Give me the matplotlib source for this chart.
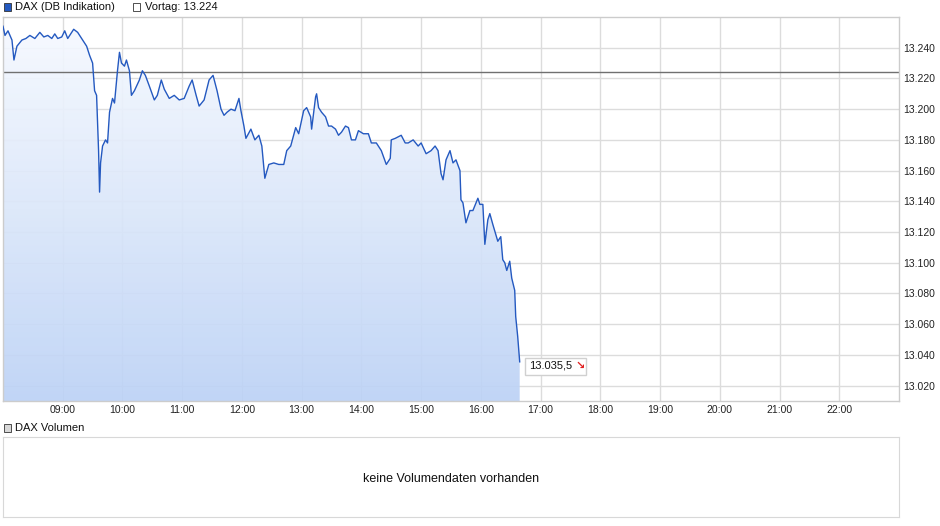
import matplotlib.pyplot as plt
import matplotlib.transforms as mtransforms
import numpy as np
from matplotlib.colors import LinearSegmentedColormap
from matplotlib.ticker import FixedLocator, FuncFormatter

# DAX intraday: Minuten nach 08:00 und Kurs
minuten = [0, 2, 5, 9, 11, 14, 19, 23, 27, 32, 37, 41, 45, 49, 52, 55, 59, 62, 65, 68,
           71, 75, 79, 84, 87, 90, 92, 94, 96, 97, 98, 100, 103, 105, 107, 110, 112, 115,
           117, 119, 122, 124, 127, 129, 132, 137, 140, 143, 147, 152, 155, 159, 162, 167,
           172, 177, 182, 187, 190, 194, 197, 202, 207, 211, 215, 219, 222, 225, 229, 233,
           237, 239, 242, 244, 249, 253, 257, 260, 263, 267, 272, 277, 282, 285, 289, 294,
           297, 302, 305, 309, 310, 314, 315, 317, 320, 324, 327, 330, 334, 337, 340, 344,
           347, 350, 354, 357, 362, 367, 370, 375, 380, 385, 389, 390, 394, 400, 404, 407,
           412, 417, 420, 425, 430, 434, 437, 440, 442, 445, 449, 452, 455, 459, 460, 462,
           465, 469, 472, 477, 479, 482, 484, 487, 489, 492, 497, 500, 502, 504, 506, 509,
           511, 514, 515, 517, 518, 519]
kurs = [13254, 13248, 13251, 13245, 13232, 13241, 13245, 13246, 13248, 13246, 13250,
        13247, 13248, 13246, 13249, 13246, 13247, 13251, 13246, 13249, 13252, 13250,
        13246, 13241, 13235, 13230, 13212, 13209, 13173, 13146, 13165, 13176, 13180,
        13178, 13198, 13207, 13204, 13225, 13237, 13230, 13228, 13232, 13225, 13209,
        13212, 13219, 13225, 13222, 13215, 13206, 13209, 13219, 13213, 13207, 13209,
        13206, 13207, 13215, 13219, 13209, 13202, 13206, 13219, 13222, 13212, 13200,
        13196, 13198, 13200, 13199, 13207, 13199, 13189, 13181, 13187, 13180, 13183,
        13176, 13155, 13164, 13165, 13164, 13164, 13173, 13176, 13188, 13184, 13199,
        13201, 13195, 13187, 13208, 13210, 13201, 13198, 13195, 13189, 13189, 13187,
        13183, 13185, 13189, 13188, 13180, 13180, 13186, 13184, 13184, 13178, 13178,
        13173, 13164, 13168, 13180, 13181, 13183, 13178, 13178, 13180, 13176, 13178,
        13171, 13173, 13176, 13173, 13158, 13154, 13167, 13173, 13165, 13167, 13160,
        13141, 13139, 13126, 13134, 13134, 13142, 13138, 13138, 13112, 13128, 13132,
        13125, 13114, 13117, 13102, 13100, 13095, 13101, 13090, 13082, 13065, 13052,
        13044, 13035.5]
vortag = 13224
letzter = 13035.5

stunden = list(range(9, 23))
stunden_labels = [f"{h:02d}:00" for h in stunden]
y_ticks = list(range(13020, 13241, 20))

plt.rcParams['font.family'] = ['Liberation Sans', 'DejaVu Sans']

t = 8 + np.array(minuten) / 60.0
k = np.array(kurs, dtype=float)

fig = plt.figure(figsize=(9.4, 5.26), dpi=100)
W, H = 940, 526
ax = fig.add_axes([3 / W, 1 - 401 / H, 896 / W, 384 / H])
ax.set_xlim(8, 23)
ax.set_ylim(13010, 13260)

# Gitter
grau = '#dcdcdc'
for h in stunden:
    ax.axvline(h, color=grau, lw=1, zorder=0)
for y in y_ticks:
    ax.axhline(y, color=grau, lw=1, zorder=0)

# Fläche mit Farbverlauf
cmap = LinearSegmentedColormap.from_list('blau', ['#bcd2f6', '#dbe7fa', '#f7faff'])
grad = np.linspace(0, 1, 256).reshape(-1, 1)
img = ax.imshow(grad, extent=[8, 23, 13010, 13260], origin='lower', aspect='auto',
                cmap=cmap, zorder=1, alpha=0.92)
poly = ax.fill_between(t, k, 13010, color='none', lw=0)
img.set_clip_path(poly.get_paths()[0], transform=ax.transData)

ax.plot(t, k, color='#2459c0', lw=1.0, zorder=3)
ax.axhline(vortag, color='#707070', lw=1, zorder=2)

ax.xaxis.set_major_locator(FixedLocator(stunden))
ax.set_xticklabels(stunden_labels)
ax.yaxis.tick_right()
ax.yaxis.set_major_locator(FixedLocator(y_ticks))
ax.yaxis.set_major_formatter(FuncFormatter(lambda v, p: f"{v / 1000:.3f}"))
ax.tick_params(axis='both', length=0, labelsize=7.5, colors='#222222')
ax.tick_params(axis='y', pad=3)
ax.tick_params(axis='x', pad=3)
for s in ax.spines.values():
    s.set_color('#cccccc')
    s.set_linewidth(1)

# Letzter Kurs: Kasten in Pixeln neben dem letzten Punkt
px, py = ax.transData.transform((t[-1], letzter))
ax.add_patch(plt.Rectangle((px + 5, py - 13), 61, 17, transform=mtransforms.IdentityTransform(),
                           fc='white', ec='#d0d0d0', lw=1, zorder=4, clip_on=False))
kurs_text = f"{letzter:,.1f}".replace(',', 'X').replace('.', ',').replace('X', '.')
ax.annotate(kurs_text, xy=(t[-1], letzter), xytext=(6.5, -3), textcoords='offset points',
            va='center', ha='left', fontsize=8, color='#111111', zorder=6)
ax.annotate("\u2198", xy=(t[-1], letzter), xytext=(40, -3), textcoords='offset points',
            va='center', ha='left', fontsize=8, color='#e02020', family='DejaVu Sans',
            fontweight='bold', zorder=6)

# Legende oben
fig.patches.append(plt.Rectangle((4 / W, 1 - 11 / H), 7 / W, 8 / H, transform=fig.transFigure,
                                 fc='#2459c0', ec='#333333', lw=0.6))
fig.text(15 / W, 1 - 7 / H, "DAX (DB Indikation)", fontsize=8, va='center', ha='left', color='#111111')
fig.patches.append(plt.Rectangle((133 / W, 1 - 11 / H), 7 / W, 8 / H, transform=fig.transFigure,
                                 fc='white', ec='#333333', lw=0.6))
fig.text(145 / W, 1 - 7 / H, f"Vortag: {vortag / 1000:.3f}", fontsize=8, va='center', ha='left',
         color='#111111')

# Volumen-Panel
fig.patches.append(plt.Rectangle((4 / W, 1 - 432 / H), 7 / W, 8 / H, transform=fig.transFigure,
                                 fc='#d8d8d8', ec='#333333', lw=0.6))
fig.text(15 / W, 1 - 428 / H, "DAX Volumen", fontsize=8, va='center', ha='left', color='#111111')
ax2 = fig.add_axes([3 / W, 1 - 517 / H, 896 / W, 80 / H])
ax2.set_xticks([])
ax2.set_yticks([])
for s in ax2.spines.values():
    s.set_color('#d8d8d8')
ax2.text(0.5, 0.48, "keine Volumendaten vorhanden", transform=ax2.transAxes, ha='center',
         va='center', fontsize=9, color='#111111')

fig.savefig('out.png', dpi=100)
